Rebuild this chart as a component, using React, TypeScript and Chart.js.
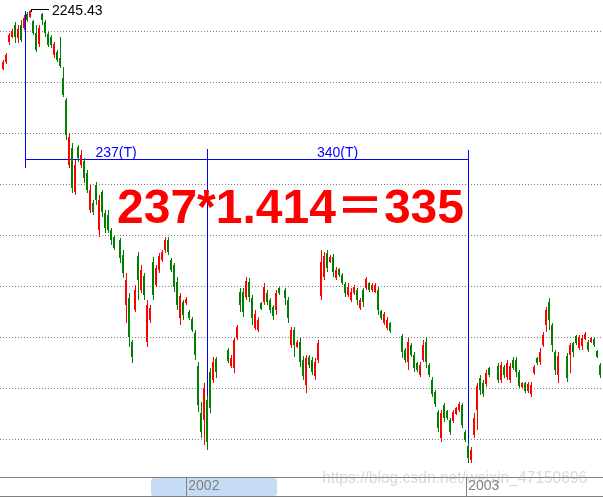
import { useEffect, useRef } from 'react';
import { Chart, registerables } from 'chart.js';

Chart.register(...registerables);

// ---- data: daily candles (index = trading-day slot), null = market closed ----
const opens: (number | null)[] = [
  2128, 2142, 2182, 2192, 2216, 2190, 2216, 2210, 2238, 2232,
  2224, 2200, 2178, 2238, 2222, 2198, 2192, 2156, 2162, 2150,
  2110, 2066, 1936, 1970, 1882, 1972, 1936, 1944, 1920, 1846,
  1860, 1896, 1806, 1882, 1840, 1836, 1806, 1792, null, 1786,
  1756, 1656, 1670, 1582, 1646, 1754, 1686, 1714, 1582, 1626,
  1742, 1696, 1726, 1746, 1766, 1786, 1746, 1736, 1702, 1630,
  1662, 1660, 1642, 1628, 1600, 1534, 1440, 1426, 1466, 1522,
  1506, 1548, null, null, null, 1566, 1534, 1530, 1590, 1682,
  1682, 1672, 1702, 1670, 1610, 1606, 1660, 1662, 1680, 1666,
  1652, 1646, 1690, null, 1686, 1666, 1576, 1606, 1572, 1582,
  1546, 1496, 1552, 1546, 1514, 1546, 1674, 1712, 1760, 1742,
  1752, 1710, 1728, 1716, 1698, 1676, 1666, 1680, 1686, 1650,
  1686, 1690, 1700, 1686, 1682, 1686, 1644, 1620, 1610, 1620,
  null, null, null, 1594, 1566, 1542, 1576, 1556, 1540, 1516,
  1546, 1582, 1536, 1506, 1482, 1442, 1390, 1456, 1444, 1426,
  1424, 1438, 1446, 1456, 1402, 1374, 1346, 1396, 1446, 1510,
  1500, 1498, 1530, null, null, 1534, 1506, 1532, 1512, 1506,
  1546, 1546, 1522, 1492, 1500, 1484, 1478, 1520, 1550, 1542,
  1576, 1616, 1662, 1616, 1562, 1516, null, null, 1554, 1556,
  1580, 1594, 1570, 1574, 1588, 1582, 1582, 1588, 1564, 1536,
];
const highs: (number | null)[] = [
  2146, 2160, 2200, 2208, 2222, 2216, 2226, 2236, 2242, 2245.43,
  2226, 2216, 2216, 2240, 2226, 2202, 2196, 2182, 2166, 2192,
  2132, 2070, 2000, 1980, 1946, 1976, 1966, 1950, 1926, 1896,
  1866, 1902, 1876, 1886, 1846, 1846, 1810, 1796, null, 1790,
  1766, 1720, 1680, 1586, 1696, 1762, 1736, 1720, 1666, 1656,
  1752, 1736, 1760, 1766, 1792, 1792, 1750, 1740, 1712, 1680,
  1666, 1672, 1646, 1632, 1606, 1542, 1462, 1500, 1474, 1530,
  1552, 1552, null, null, null, 1570, 1556, 1590, 1616, 1690,
  1690, 1712, 1710, 1676, 1646, 1632, 1662, 1700, 1686, 1670,
  1656, 1686, 1692, null, 1690, 1672, 1612, 1612, 1586, 1590,
  1554, 1556, 1556, 1552, 1550, 1586, 1766, 1762, 1766, 1756,
  1758, 1732, 1730, 1720, 1702, 1700, 1690, 1696, 1690, 1670,
  1690, 1712, 1702, 1700, 1700, 1692, 1646, 1642, 1632, 1622,
  null, null, null, 1598, 1570, 1590, 1580, 1562, 1542, 1542,
  1586, 1592, 1540, 1512, 1486, 1446, 1446, 1460, 1446, 1430,
  1446, 1452, 1462, 1460, 1406, 1380, 1372, 1440, 1500, 1516,
  1506, 1526, 1532, null, null, 1540, 1542, 1536, 1546, 1540,
  1552, 1552, 1526, 1502, 1502, 1502, 1502, 1536, 1552, 1570,
  1602, 1652, 1670, 1620, 1566, 1562, null, null, 1560, 1580,
  1582, 1596, 1596, 1596, 1602, 1586, 1592, 1592, 1566, 1540,
];
const lows: (number | null)[] = [
  2126, 2138, 2176, 2190, 2180, 2180, 2182, 2206, 2222, 2230,
  2196, 2162, 2172, 2216, 2192, 2172, 2170, 2150, 2142, 2130,
  2072, 1986, 1930, 1880, 1876, 1942, 1930, 1900, 1880, 1840,
  1836, 1856, 1792, 1832, 1800, 1800, 1776, 1766, null, 1740,
  1710, 1620, 1572, 1540, 1642, 1666, 1680, 1666, 1572, 1620,
  1666, 1692, 1720, 1742, 1760, 1756, 1722, 1682, 1646, 1616,
  1626, 1656, 1626, 1602, 1546, 1442, 1390, 1376, 1366, 1440,
  1500, 1510, null, null, null, 1540, 1530, 1520, 1586, 1642,
  1632, 1666, 1662, 1616, 1606, 1602, 1646, 1656, 1656, 1640,
  1626, 1636, 1676, null, 1656, 1620, 1570, 1552, 1570, 1532,
  1506, 1480, 1530, 1516, 1506, 1540, 1666, 1706, 1722, 1740,
  1712, 1706, 1712, 1696, 1672, 1672, 1662, 1676, 1656, 1646,
  1652, 1686, 1682, 1682, 1680, 1636, 1626, 1616, 1606, 1600,
  null, null, null, 1550, 1540, 1526, 1552, 1522, 1522, 1512,
  1542, 1530, 1512, 1472, 1452, 1402, 1382, 1422, 1426, 1396,
  1420, 1436, 1442, 1410, 1382, 1342, 1340, 1390, 1406, 1476,
  1472, 1492, 1512, null, null, 1500, 1500, 1510, 1506, 1500,
  1526, 1512, 1490, 1490, 1480, 1480, 1472, 1516, 1536, 1536,
  1572, 1602, 1606, 1562, 1516, 1500, null, null, 1502, 1520,
  1552, 1576, 1566, 1566, 1586, 1562, 1580, 1572, 1550, 1510,
];
const closes: (number | null)[] = [
  2142, 2156, 2196, 2204, 2192, 2208, 2186, 2230, 2226, 2244,
  2200, 2166, 2210, 2226, 2200, 2176, 2176, 2178, 2146, 2134,
  2076, 1996, 1992, 1890, 1936, 1950, 1956, 1910, 1886, 1886,
  1842, 1866, 1866, 1842, 1810, 1806, 1786, 1770, null, 1750,
  1720, 1706, 1592, 1552, 1686, 1706, 1726, 1676, 1656, 1650,
  1676, 1730, 1754, 1762, 1786, 1762, 1726, 1692, 1656, 1674,
  1636, 1668, 1630, 1606, 1556, 1456, 1402, 1490, 1382, 1450,
  1542, 1522, null, null, null, 1544, 1550, 1586, 1612, 1656,
  1642, 1704, 1672, 1630, 1638, 1626, 1648, 1692, 1662, 1646,
  1634, 1680, 1680, null, 1670, 1630, 1606, 1576, 1582, 1542,
  1514, 1550, 1536, 1522, 1542, 1580, 1742, 1754, 1730, 1752,
  1722, 1726, 1716, 1700, 1680, 1692, 1682, 1692, 1666, 1666,
  1662, 1708, 1686, 1696, 1696, 1646, 1630, 1638, 1626, 1604,
  null, null, null, 1562, 1546, 1582, 1556, 1530, 1526, 1536,
  1576, 1542, 1516, 1478, 1458, 1410, 1440, 1430, 1430, 1402,
  1442, 1450, 1458, 1416, 1386, 1350, 1366, 1430, 1494, 1486,
  1478, 1520, 1516, null, null, 1506, 1536, 1516, 1540, 1534,
  1530, 1522, 1494, 1500, 1484, 1498, 1496, 1532, 1540, 1562,
  1596, 1646, 1626, 1576, 1526, 1554, null, null, 1510, 1576,
  1562, 1580, 1592, 1590, 1598, 1566, 1590, 1576, 1552, 1516,
];

// year boundaries (in candle-slot units) and their labels
const yearStarts = [61.1, 154.4];
const yearLabels = ['2002', '2003'];
// horizontal dotted grid levels
const gridLevels = [2203, 2101, 1999, 1897, 1795, 1693, 1591, 1489, 1387];

// annotation anchors (data units)
const peakIndex = 9;
const peakValue = 2245.43;
const peakLabel = '2245.43';
const bracketLeft = 7.33;
const bracketMid = 68;
const bracketEnd = 155;
const bracketLevel = 1948;
const leftSpan = [1930, 2244];
const midSpan = [1366, 1968];
const endSpan = [1340, 1966];
const spanLabels = ['237(T)', '340(T)'];
const formulaText = '237*1.414＝335';
const formulaAnchor = { index: 38, value: 1820 };
const watermarkText = 'https://blog.csdn.net/weixin_47150696';

const X_MIN = -1;
const X_MAX = 200;
const Y_MIN = 1312;
const Y_MAX = 2266;

const SANS = "'Liberation Sans', Arial, 'DejaVu Sans', sans-serif";
const UP = '#FF0000';
const DOWN = '#008000';
const BLUE = '#0000FF';
const GRAY = '#808080';

const slots = opens.map((_, i) => i).filter((i) => opens[i] != null);
const wickData = slots.map((i) => ({ x: i, y: [lows[i] as number, highs[i] as number] }));
const bodyData = slots.map((i) => {
  const o = opens[i] as number;
  const c = closes[i] as number;
  return { x: i, y: [Math.min(o, c), Math.max(o, c)] };
});
const candleColors = slots.map((i) => ((closes[i] as number) >= (opens[i] as number) ? UP : DOWN));

const annotationPlugin = {
  id: 'annotations',
  beforeDraw(chart: any) {
    const { ctx } = chart;
    ctx.save();
    // scrollbar thumb in the time strip
    ctx.fillStyle = '#C6DCF4';
    ctx.beginPath();
    if (ctx.roundRect) ctx.roundRect(151, 478, 126, 18, 3);
    else ctx.rect(151, 478, 126, 18);
    ctx.fill();
    ctx.restore();
  },
  beforeDatasetsDraw(chart: any) {
    const { ctx } = chart;
    const xs = chart.scales.x;
    const ys = chart.scales.y;
    const px = (v: number) => Math.round(xs.getPixelForValue(v));
    const py = (v: number) => Math.round(ys.getPixelForValue(v));
    ctx.save();
    ctx.fillStyle = BLUE;
    const vline = (xi: number, span: number[]) => {
      const top = py(span[1]);
      const bot = py(span[0]);
      ctx.fillRect(px(xi), top, 1, bot - top);
    };
    vline(bracketLeft, leftSpan);
    vline(bracketMid, midSpan);
    vline(bracketEnd, endSpan);
    const ly = py(bracketLevel);
    ctx.fillRect(px(bracketLeft), ly, px(bracketEnd) - px(bracketLeft) + 1, 1);
    ctx.restore();
  },
  afterDatasetsDraw(chart: any) {
    const { ctx } = chart;
    const xs = chart.scales.x;
    const ys = chart.scales.y;
    const px = (v: number) => xs.getPixelForValue(v);
    const py = (v: number) => ys.getPixelForValue(v);
    ctx.save();
    // peak leader line + label
    const lx = Math.round(px(peakIndex)) + 1;
    const lyy = Math.floor(py(peakValue)) - 1;
    ctx.fillStyle = '#000000';
    ctx.fillRect(lx, lyy, 18, 1);
    ctx.fillRect(lx, lyy, 1, 3);
    ctx.font = `14px ${SANS}`;
    ctx.textBaseline = 'alphabetic';
    ctx.textAlign = 'left';
    ctx.fillText(peakLabel, lx + 21, lyy + 6);

    // span labels
    const ly = Math.round(py(bracketLevel));
    ctx.fillStyle = BLUE;
    ctx.font = `14px ${SANS}`;
    ctx.textAlign = 'center';
    ctx.fillText(spanLabels[0], (px(bracketLeft) + px(bracketMid)) / 2, ly - 2);
    ctx.fillText(spanLabels[1], (px(bracketMid) + px(bracketEnd)) / 2, ly - 2);

    // formula
    ctx.fillStyle = '#FF0000';
    ctx.font = `bold 48px ${SANS.replace('sans-serif', "'Noto Sans CJK SC', sans-serif")}`;
    ctx.textAlign = 'left';
    ctx.fillText(formulaText, px(formulaAnchor.index), py(formulaAnchor.value));
    ctx.restore();
  },
  afterDraw(chart: any) {
    const { ctx } = chart;
    ctx.save();
    ctx.fillStyle = GRAY;
    ctx.fillRect(0, 496, chart.width, 1);
    // watermark
    ctx.font = `15.6px ${SANS}`;
    ctx.fillStyle = 'rgba(170,170,170,0.45)';
    ctx.textAlign = 'left';
    ctx.textBaseline = 'alphabetic';
    ctx.fillText(watermarkText, 322, 483);
    ctx.restore();
  },
};

export default function App() {
  const ref = useRef<HTMLCanvasElement | null>(null);
  useEffect(() => {
    if (!ref.current) return;
    const chart = new Chart(ref.current, {
      type: 'bar',
      data: {
        datasets: [
          {
            label: 'body',
            data: bodyData as any,
            backgroundColor: candleColors,
            barThickness: 2,
            grouped: false,
            borderWidth: 0,
            inflateAmount: 0,
            xAxisID: 'x',
          } as any,
          {
            label: 'wick',
            data: wickData as any,
            backgroundColor: candleColors,
            barThickness: 1,
            grouped: false,
            borderWidth: 0,
            inflateAmount: 0,
            xAxisID: 'x2',
          } as any,
        ],
      },
      options: {
        responsive: false,
        animation: false,
        devicePixelRatio: 1,
        events: [],
        layout: { padding: 0 },
        plugins: { legend: { display: false }, tooltip: { enabled: false }, title: { display: false } },
        scales: {
          x: {
            type: 'linear',
            min: X_MIN,
            max: X_MAX,
            offset: false,
            position: 'bottom',
            afterBuildTicks: (s: any) => {
              s.ticks = yearStarts.map((v) => ({ value: v }));
            },
            afterFit: (s: any) => {
              s.height = 20;
            },
            ticks: {
              autoSkip: false,
              maxRotation: 0,
              minRotation: 0,
              align: 'start',
              padding: -18,
              labelOffset: 2,
              color: GRAY,
              font: { family: SANS, size: 14 },
              callback: (v: any) => {
                const k = yearStarts.indexOf(Number(v));
                return k >= 0 ? yearLabels[k] : '';
              },
            },
            grid: { drawOnChartArea: false, drawTicks: true, tickLength: 19, color: GRAY, lineWidth: 1, offset: false },
            border: { display: true, color: GRAY, width: 1 },
          } as any,
          x2: {
            type: 'linear',
            display: false,
            min: X_MIN - 1 / 6,
            max: X_MAX - 1 / 6,
            offset: false,
          } as any,
          y: {
            type: 'linear',
            min: Y_MIN,
            max: Y_MAX,
            position: 'left',
            afterBuildTicks: (s: any) => {
              s.ticks = gridLevels.map((v) => ({ value: v }));
            },
            afterFit: (s: any) => {
              s.width = 0;
            },
            ticks: { display: false },
            grid: { drawTicks: false, color: GRAY, lineWidth: 1, borderDash: [1, 2] },
            border: { display: false, dash: [1, 2] },
          } as any,
        },
      },
      plugins: [annotationPlugin],
    });
    return () => chart.destroy();
  }, []);
  return (
    <div style={{ position: 'fixed', left: 0, top: 0, width: 603, height: 497, background: '#ffffff' }}>
      <canvas ref={ref} width={603} height={497} style={{ display: 'block' }} />
    </div>
  );
}
